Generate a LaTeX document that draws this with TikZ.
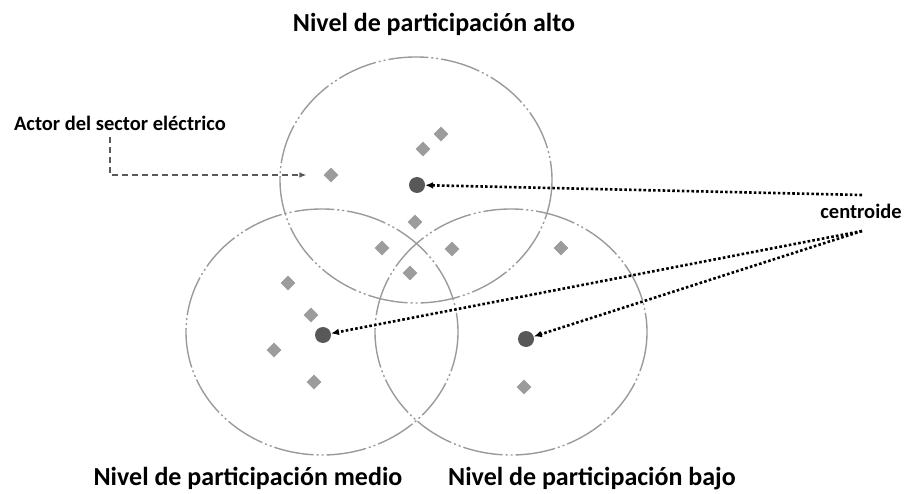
\documentclass[tikz,border=0pt]{standalone}
\usepackage{fontspec}
\setmainfont{Carlito}
\usepackage{tikz}
\usetikzlibrary{arrows.meta,positioning,shapes.geometric}
\definecolor{ringgray}{HTML}{9A9A9A}
\definecolor{actorgray}{HTML}{9C9C9C}
\definecolor{centgray}{HTML}{585858}
\definecolor{dashgray}{HTML}{5A5A5A}
\begin{document}
\begin{tikzpicture}[
 x=1pt,y=-1pt,
 font=\bfseries,
 ring/.style={draw=ringgray,line width=1.4pt,dash pattern=on 40pt off 3pt on 2pt off 3pt on 2pt off 3pt},
 actor/.style={diamond,fill=actorgray,inner sep=0pt,minimum size=15pt},
 cdot/.style={circle,fill=centgray,inner sep=0pt,minimum size=16pt},
 level/.style={font=\bfseries\fontsize{26}{30}\selectfont,anchor=base,inner sep=0pt},
 note/.style={font=\bfseries\fontsize{20.5}{24}\selectfont,anchor=base,inner sep=0pt},
 dotarr/.style={-{Latex[length=2.8mm,width=2.4mm]},line width=2.6pt,dash pattern=on 2.6pt off 2.2pt,draw=black},
 dasharr/.style={-{Latex[length=2.4mm,width=2mm]},line width=1.2pt,dash pattern=on 6pt off 4pt,draw=dashgray}
]
\useasboundingbox (0,0) rectangle (907,494);

% niveles de participacion
\draw[ring] (416,180) ellipse [x radius=136,y radius=123];
\draw[ring] (322,332) ellipse [x radius=136,y radius=123];
\draw[ring] (511,332) ellipse [x radius=136,y radius=123];

\node[level] (alto) at (434,32) {Nivel de participación alto};
\node[level] (medio) at (248,485) {Nivel de participación medio};
\node[level] (bajo) at (592,485) {Nivel de participación bajo};

% actores
\node[actor] (a1) at (331,175) {};
\node[actor] (a2) at (423,149) {};
\node[actor] (a3) at (441,134) {};
\node[actor] (a4) at (415,222) {};
\node[actor] (a5) at (382,248) {};
\node[actor] (a6) at (410,273) {};
\node[actor] (a7) at (452,249) {};
\node[actor] (a8) at (561,248) {};
\node[actor] (a9) at (288,283) {};
\node[actor] (a10) at (311,315) {};
\node[actor] (a11) at (274,350) {};
\node[actor] (a12) at (314,382) {};
\node[actor] (a13) at (524,387) {};

% centroides
\node[cdot] (ca) at (417,185) {};
\node[cdot] (cm) at (323,335) {};
\node[cdot] (cb) at (526,339) {};

\node[note] (actorlbl) at (120,131) {Actor del sector eléctrico};
\node[note] (cent) at (861,219) {centroide};
\coordinate (ct1) at (862,195);
\coordinate (ct2) at (862,231);

\draw[dasharr] ([xshift=-10pt,yshift=-6pt]actorlbl.south) |- ([xshift=-17pt]a1.west);
\draw[dotarr] (ct1) -- (ca);
\draw[dotarr] (ct2) -- (cm);
\draw[dotarr] (ct2) -- (cb);
\end{tikzpicture}
\end{document}
